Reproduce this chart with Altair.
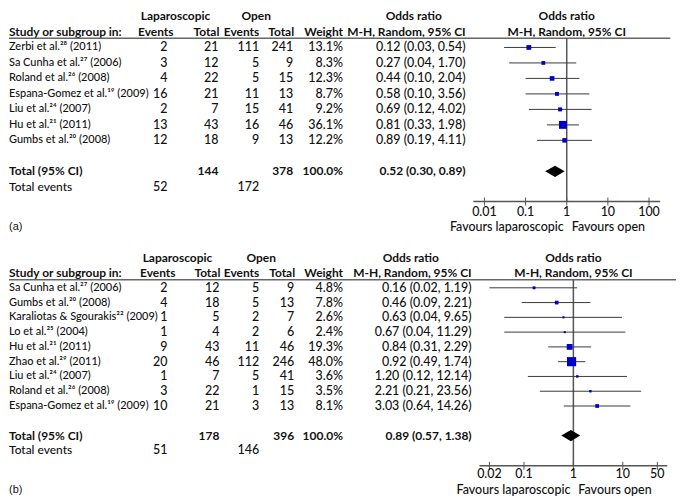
import altair as alt
import pandas as pd

# ---------------- panel (a) data ----------------
studies_a = ["Zerbi et al.²⁸ (2011)", "Sa Cunha et al.²⁷ (2006)", "Roland et al.²⁶ (2008)",
             "Espana-Gomez et al.¹⁹ (2009)", "Liu et al.²⁴ (2007)", "Hu et al.²¹ (2011)",
             "Gumbs et al.²⁰ (2008)"]
lap_events_a = [2, 3, 4, 16, 2, 13, 12]
lap_total_a = [21, 12, 22, 21, 7, 43, 18]
open_events_a = [111, 5, 5, 11, 15, 16, 9]
open_total_a = [241, 9, 15, 13, 41, 46, 13]
weight_a = [13.1, 8.3, 12.3, 8.7, 9.2, 36.1, 12.2]
or_a = [0.12, 0.27, 0.44, 0.58, 0.69, 0.81, 0.89]
lo_a = [0.03, 0.04, 0.10, 0.10, 0.12, 0.33, 0.19]
hi_a = [0.54, 1.70, 2.04, 3.56, 4.02, 1.98, 4.11]
totals_a = [144, 378]
total_events_a = [52, 172]
pooled_a = [0.52, 0.30, 0.89]
ticks_a = [0.01, 0.1, 1, 10, 100]
tick_labels_a = ["0.01", "0.1", "1", "10", "100"]

# ---------------- panel (b) data ----------------
studies_b = ["Sa Cunha et al.²⁷ (2006)", "Gumbs et al.²⁰ (2008)", "Karaliotas & Sgourakis²² (2009)",
             "Lo et al.²⁵ (2004)", "Hu et al.²¹ (2011)", "Zhao et al.²⁹ (2011)",
             "Liu et al.²⁴ (2007)", "Roland et al.²⁶ (2008)", "Espana-Gomez et al.¹⁹ (2009)"]
lap_events_b = [2, 4, 1, 1, 9, 20, 1, 3, 10]
lap_total_b = [12, 18, 5, 4, 43, 46, 7, 22, 21]
open_events_b = [5, 5, 2, 2, 11, 112, 5, 1, 3]
open_total_b = [9, 13, 7, 6, 46, 246, 41, 15, 13]
weight_b = [4.8, 7.8, 2.6, 2.4, 19.3, 48.0, 3.6, 3.5, 8.1]
or_b = [0.16, 0.46, 0.63, 0.67, 0.84, 0.92, 1.20, 2.21, 3.03]
lo_b = [0.02, 0.09, 0.04, 0.04, 0.31, 0.49, 0.12, 0.21, 0.64]
hi_b = [1.19, 2.21, 9.65, 11.29, 2.29, 1.74, 12.14, 23.56, 14.26]
totals_b = [178, 396]
total_events_b = [51, 146]
pooled_b = [0.89, 0.57, 1.38]
ticks_b = [0.02, 0.1, 1, 10, 50]
tick_labels_b = ["0.02", "0.1", "1", "10", "50"]

# ---------------- labels ----------------
header_top = ["Laparoscopic", "Open", "Odds ratio"]
header_sub = ["Study or subgroup in:", "Events", "Total", "Events", "Total", "Weight",
              "M-H, Random, 95% CI"]
total_labels = ["Total (95% CI)", "Total events", "100.0%"]
favours = ["Favours laparoscopic", "Favours open"]
panel_labels = ["(a)", "(b)"]

FONT = "Lato"
FS_NAME = 11
FS_NUM = 12.5
FS_BOLD = 12
INK = "#111111"
BLUE = "#0000c8"
W = 669
FZ = 0.953  # horizontal squeeze of the forest part


def px(x):
    # reference-pixel column anchor -> chart pixel
    return x - 2 if x < 470 else 466 + (x - 470) * FZ


def tdf(rows, texts):
    return pd.DataFrame({"row": rows, "text": [str(t) for t in texts]})


def build(studies, le, lt, oe, ot, w, orr, lo, hi, totals, tev, pooled, ticks, tlabels,
          H, ydom, xdom, xrange, col, axis_row, tl_row, fav_row, line_row, line_end, label,
          diamond_h, tick_h):
    n = len(studies)
    tot_row, ev_row = n + 1, n + 2
    ys = alt.Scale(domain=ydom, range=[0, H], nice=False, zero=False)
    xs = alt.Scale(type="log", domain=xdom, range=xrange, nice=False)

    def Y():
        return alt.Y("row:Q", scale=ys, axis=None)

    def YD(v):
        return alt.YDatum(v, scale=ys, axis=None)

    def X(f):
        return alt.X(f, scale=xs, axis=None)

    def XD(v):
        return alt.XDatum(v, scale=xs, axis=None)

    def txt(df, x, align, bold=False, size=None):
        if size is None:
            size = FS_BOLD if bold else FS_NUM
        return alt.Chart(df).mark_text(
            align=align, baseline="middle", font=FONT, fontSize=size,
            fontWeight="bold" if bold else 500, color=INK
        ).encode(x=alt.value(x), y=Y(), text="text:N")

    one = pd.DataFrame({"k": [0]})
    idx = list(range(n))
    L = []
    # --- table body ---
    L.append(txt(tdf(idx, studies), px(2), "left", size=FS_NAME))
    L.append(txt(tdf([ev_row], [total_labels[1]]), px(2), "left", size=FS_NUM - 0.5))
    L.append(txt(tdf([tot_row], [total_labels[0]]), px(2), "left", bold=True))
    L.append(txt(tdf(idx + [ev_row], le + [tev[0]]), px(col["le"]), "right"))
    L.append(txt(tdf(idx, lt), px(col["lt"]), "right"))
    L.append(txt(tdf([tot_row], [totals[0]]), px(col["lt"]), "right", bold=True))
    L.append(txt(tdf(idx + [ev_row], oe + [tev[1]]), px(col["oe"]), "right"))
    L.append(txt(tdf(idx, ot), px(col["ot"]), "right"))
    L.append(txt(tdf([tot_row], [totals[1]]), px(col["ot"]), "right", bold=True))
    L.append(txt(tdf(idx, [f"{v:.1f}%" for v in w]), px(col["w"]), "right"))
    L.append(txt(tdf([tot_row], [total_labels[2]]), px(col["w"]), "right", bold=True))
    L.append(txt(tdf(idx, [f"{a:.2f} ({b:.2f}, {c:.2f})" for a, b, c in zip(orr, lo, hi)]),
                 px(col["orv"]), "right"))
    L.append(txt(tdf([tot_row], [f"{pooled[0]:.2f} ({pooled[1]:.2f}, {pooled[2]:.2f})"]),
                 px(col["orv"]), "right", bold=True))
    # --- headers ---
    L.append(txt(tdf([-2], [header_top[0]]), px(col["h_lap"]), "center", bold=True))
    L.append(txt(tdf([-2], [header_top[1]]), px(col["h_open"]), "center", bold=True))
    L.append(txt(tdf([-2], [header_top[2]]), px(col["h_or"]), "center", bold=True))
    L.append(txt(tdf([-1], [header_sub[0]]), px(2), "left", bold=True))
    L.append(txt(tdf([-1], [header_sub[1]]), px(col["h_le"]), "right", bold=True))
    L.append(txt(tdf([-1], [header_sub[2]]), px(col["lt"] + 1), "right", bold=True))
    L.append(txt(tdf([-1], [header_sub[3]]), px(col["oe"]), "right", bold=True))
    L.append(txt(tdf([-1], [header_sub[4]]), px(col["ot"] + 1), "right", bold=True))
    L.append(txt(tdf([-1], [header_sub[5]]), px(col["w"]), "right", bold=True))
    L.append(txt(tdf([-1], [header_sub[6]]), px(col["orv"]), "right", bold=True))
    for r, t in [(-2, header_top[2]), (-1, header_sub[6])]:
        L.append(alt.Chart(one).mark_text(align="center", baseline="middle", font=FONT,
                                          fontSize=FS_BOLD, fontWeight="bold", color=INK, text=t)
                 .encode(x=XD(1), y=YD(r)))
    # header rule
    L.append(alt.Chart(one).mark_rule(color="#666666", strokeWidth=1.5)
             .encode(x=alt.value(0), x2=alt.value(px(line_end)), y=YD(line_row)))
    # --- forest ---
    fdf = pd.DataFrame({"row": idx, "or": orr, "lo": lo, "hi": hi, "w": w})
    L.append(alt.Chart(one).mark_rule(color="#555555", strokeWidth=1.5)
             .encode(x=XD(1), y=YD(line_row), y2=alt.Y2Datum(axis_row)))
    L.append(alt.Chart(fdf).mark_rule(color="#3a3a3a", strokeWidth=1)
             .encode(x=X("lo:Q"), x2="hi:Q", y=Y()))
    L.append(alt.Chart(fdf).mark_square(color=BLUE, opacity=1)
             .encode(x=X("or:Q"), y=Y(),
                     size=alt.Size("w:Q", scale=alt.Scale(domain=[0, 100], range=[0, 175]),
                                   legend=None)))
    ddf = pd.DataFrame({"x": [pooled[1], pooled[0], pooled[2]],
                        "y": [tot_row, tot_row - diamond_h, tot_row],
                        "y2": [tot_row, tot_row + diamond_h, tot_row]})
    L.append(alt.Chart(ddf).mark_area(color="black", opacity=1)
             .encode(x=X("x:Q"), y=alt.Y("y:Q", scale=ys, axis=None), y2="y2:Q"))
    # --- axis ---
    L.append(alt.Chart(one).mark_rule(color="#555555", strokeWidth=1.5)
             .encode(x=XD(xdom[0]), x2=alt.X2Datum(xdom[1]), y=YD(axis_row)))
    tdfk = pd.DataFrame({"t": ticks, "text": tlabels})
    L.append(alt.Chart(tdfk).mark_rule(color="#555555", strokeWidth=1)
             .encode(x=X("t:Q"), y=YD(axis_row - tick_h), y2=alt.Y2Datum(axis_row + tick_h)))
    L.append(alt.Chart(tdfk).mark_text(align="center", baseline="middle", font=FONT,
                                       fontSize=FS_NUM, fontWeight=500, color=INK)
             .encode(x=X("t:Q"), y=YD(tl_row), text="text:N"))
    L.append(alt.Chart(one).mark_text(align="right", dx=-3, baseline="middle", font=FONT,
                                      fontSize=FS_NUM, fontWeight=500, color=INK,
                                      text=favours[0])
             .encode(x=XD(1), y=YD(fav_row)))
    L.append(alt.Chart(one).mark_text(align="left", dx=5, baseline="middle", font=FONT,
                                      fontSize=FS_NUM, fontWeight=500, color=INK,
                                      text=favours[1])
             .encode(x=XD(1), y=YD(fav_row)))
    L.append(alt.Chart(one).mark_text(align="left", baseline="middle", font="Liberation Sans",
                                      fontSize=11, color=INK, text=label)
             .encode(x=alt.value(0), y=YD(fav_row)))
    return alt.layer(*L).properties(width=W, height=H)


col_a = dict(le=161, lt=212, oe=253, ot=287, w=337, orv=460,
             h_le=167, h_lap=169, h_open=250, h_or=408)
col_b = dict(le=161, lt=213, oe=253, ot=288, w=337, orv=466,
             h_le=169, h_lap=171, h_open=255, h_or=405)

HA = 233
HB = 253
pa = build(studies_a, lap_events_a, lap_total_a, open_events_a, open_total_a, weight_a,
           or_a, lo_a, hi_a, totals_a, total_events_a, pooled_a, ticks_a, tick_labels_a,
           H=HA, ydom=[-2.5, 12.5], xdom=[10 ** -2.27, 10 ** 2.27],
           xrange=[px(568) - 2.27 * 43.3 * FZ, px(568) + 2.27 * 43.3 * FZ], col=col_a,
           axis_row=9.95, tl_row=10.62, fav_row=11.6, line_row=-0.6, line_end=677,
           label=panel_labels[0], diamond_h=0.36, tick_h=0.26)
pb = build(studies_b, lap_events_b, lap_total_b, open_events_b, open_total_b, weight_b,
           or_b, lo_b, hi_b, totals_b, total_events_b, pooled_b, ticks_b, tick_labels_b,
           H=HB, ydom=[-3.165, 13.907], xdom=[10 ** -1.9, 10 ** 1.9],
           xrange=[px(575) - 1.9 * 52 * FZ, px(575) + 1.9 * 52 * FZ], col=col_b,
           axis_row=12.05, tl_row=12.62, fav_row=13.66, line_row=-0.55, line_end=683,
           label=panel_labels[1], diamond_h=0.38, tick_h=0.27)

chart = (alt.vconcat(pa, pb, spacing=0, bounds="flush")
         .properties(padding=0)
         .configure_view(stroke=None))

chart.save("out.html", embed_options={"renderer": "svg", "actions": False})
